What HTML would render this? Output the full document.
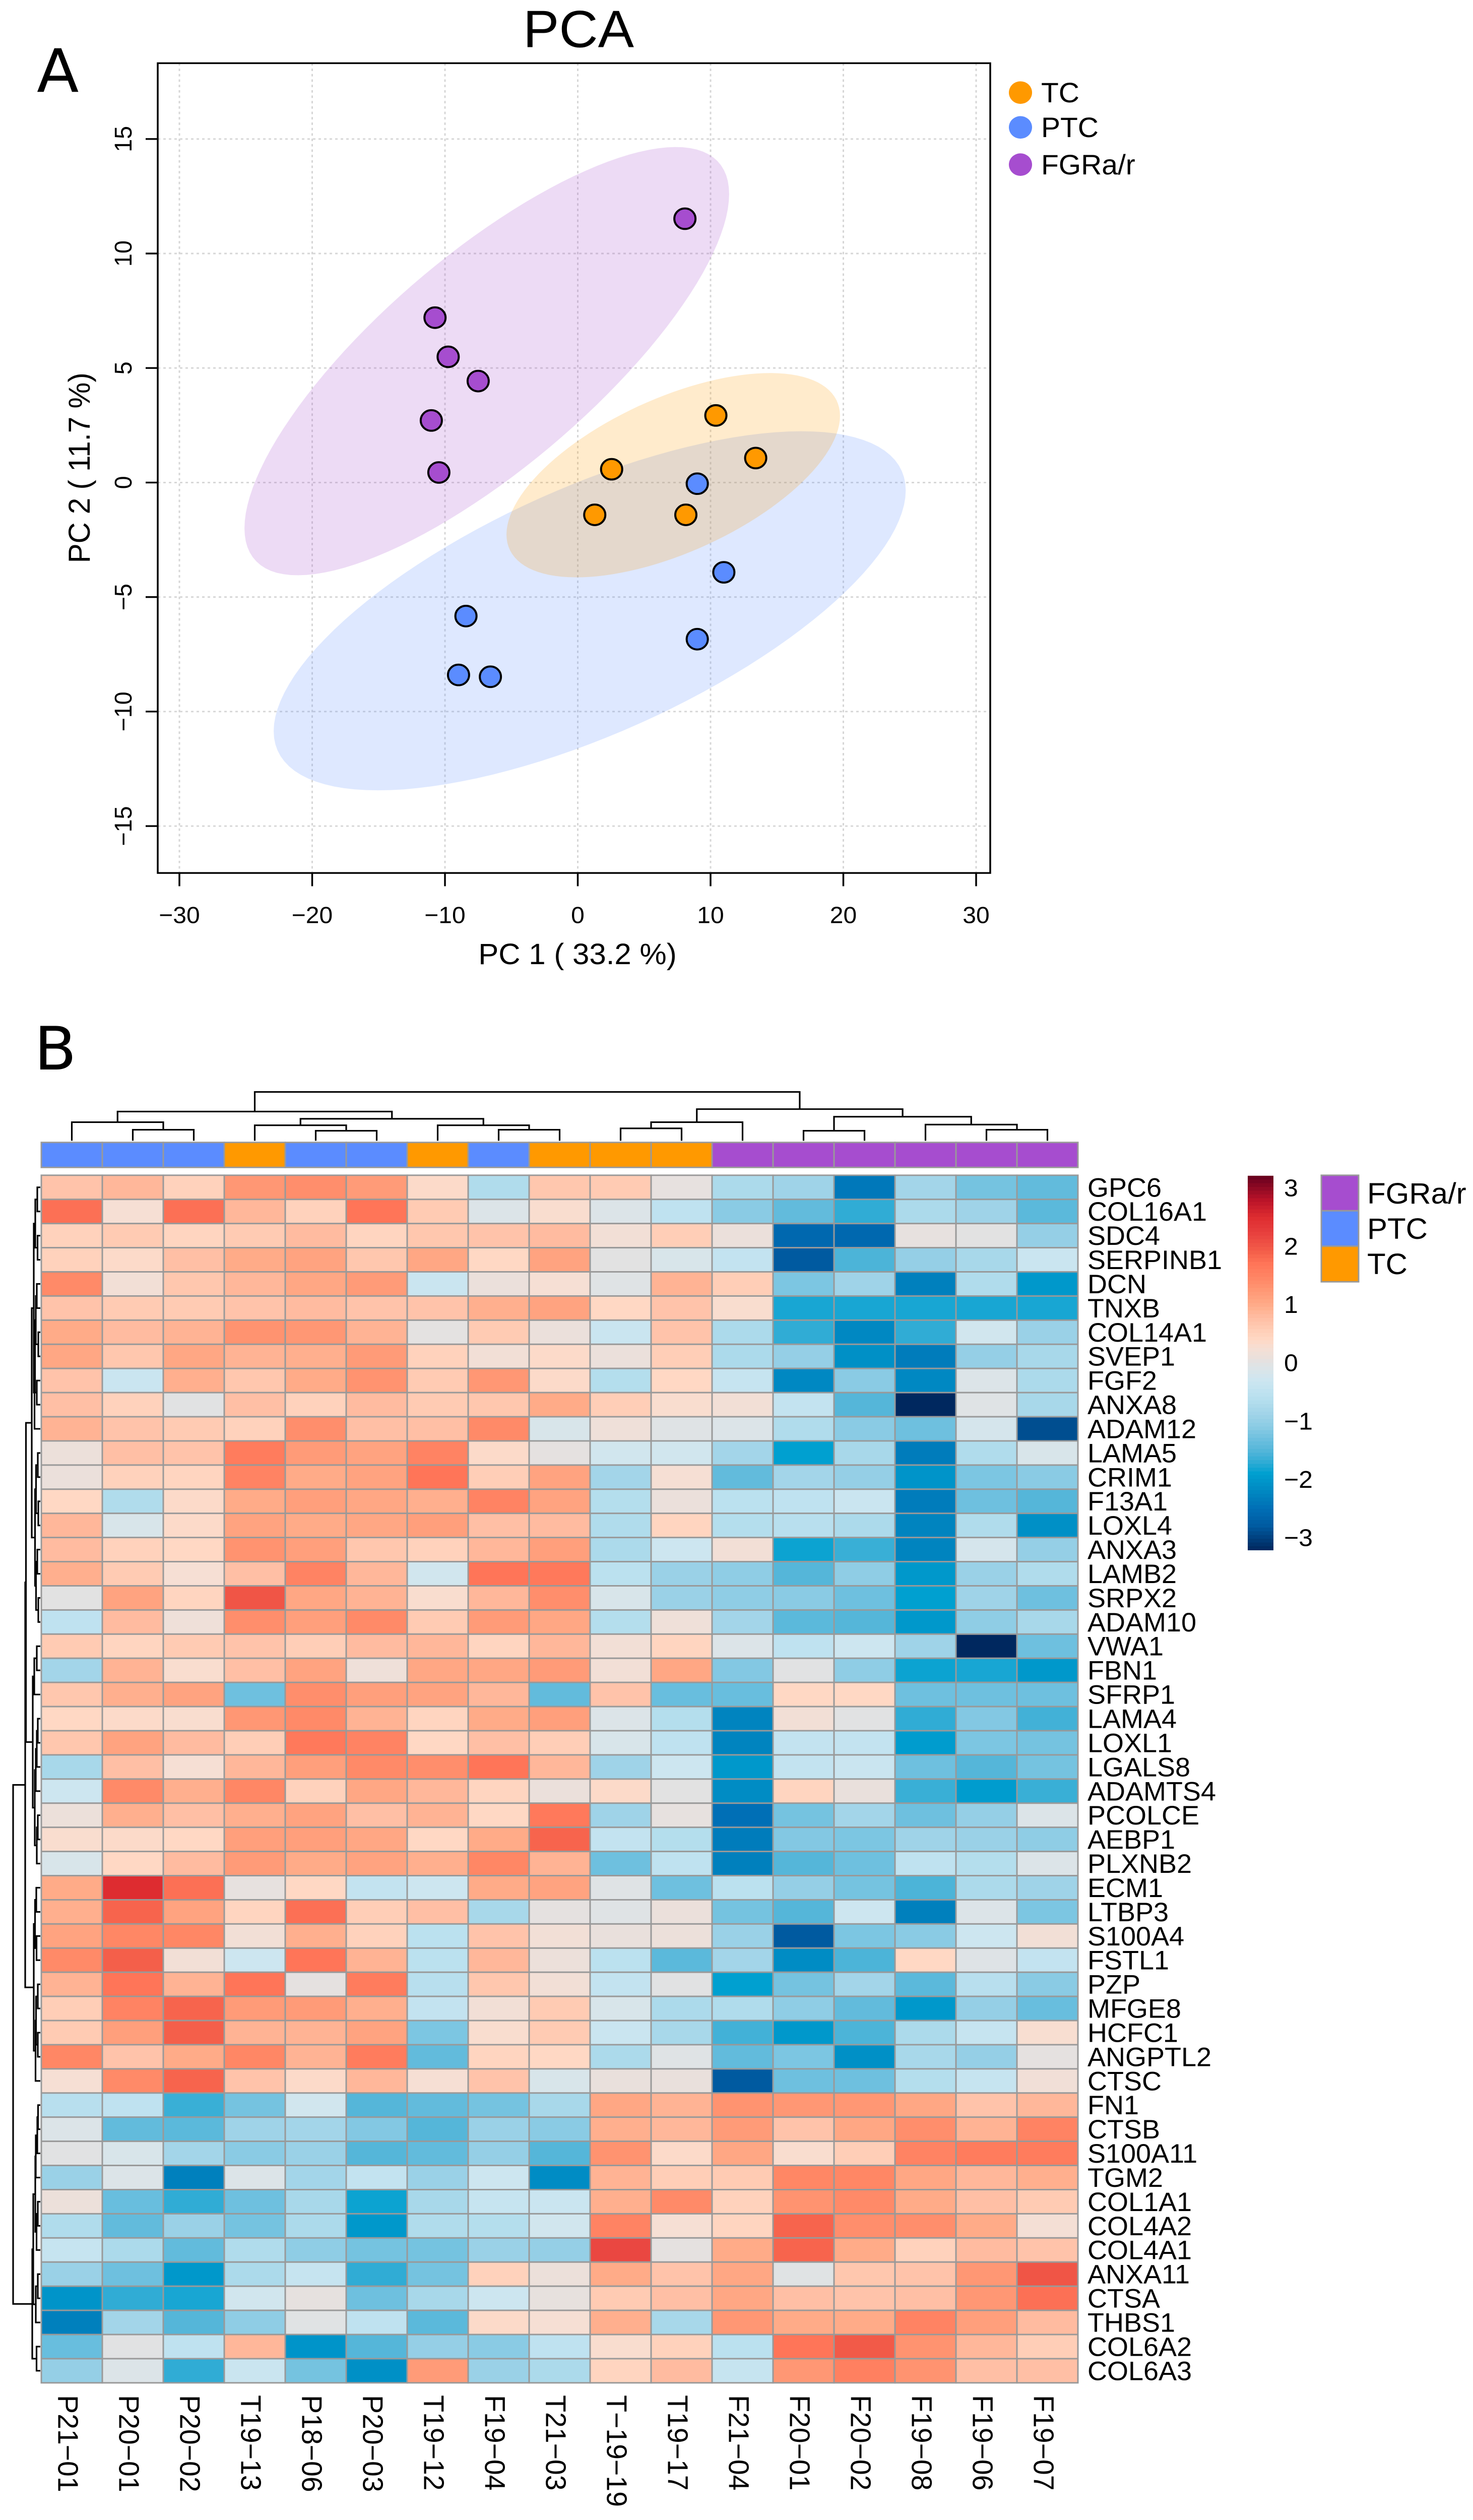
<!DOCTYPE html>
<html lang="en">
<head>
<meta charset="utf-8">
<title>PCA and heatmap of FGRa/r, PTC and TC samples</title>
<style>
html,body{margin:0;padding:0;background:#fff;width:100%;height:100vh;overflow:hidden;}
svg{display:block;overflow:hidden;width:100vw;height:100vh;font-family:"Liberation Sans",Arial,sans-serif;}
</style>
</head>
<body>
<svg id="figure" xmlns="http://www.w3.org/2000/svg" viewBox="0 0 2923 5144" preserveAspectRatio="none">
  <rect x="0" y="0" width="2923" height="5144" fill="#ffffff"/>
  <text x="73" y="187" font-family="'DejaVu Sans',sans-serif" font-size="122" fill="#000">A</text>
  <text x="68" y="2183" font-family="'DejaVu Sans',sans-serif" font-size="122" fill="#000">B</text>
  <text x="1148" y="96" font-size="107" text-anchor="middle" fill="#000">PCA</text>
  <text x="1146" y="1968" font-size="60" text-anchor="middle" fill="#000">PC 1 ( 33.2 %)</text>
  <text transform="translate(178 955) rotate(-90)" font-size="60" text-anchor="middle" fill="#000">PC 2 ( 11.7 %)</text>
  <g id="pca-plot"></g>
  <g id="pca-legend"></g>
  <g id="col-dendrogram"></g>
  <g id="annotation-bar"></g>
  <g id="heatmap"></g>
  <g id="row-dendrogram"></g>
  <g id="gene-labels"></g>
  <g id="sample-labels"></g>
  <g id="color-scale"></g>
  <g id="group-legend"></g>
</svg>
<script>
/* ---------- PCA data ---------- */
const pcaGroups = ['TC', 'PTC', 'FGRa/r'];
const pcaXTicks = [-30, -20, -10, 0, 10, 20, 30];
const pcaYTicks = [-15, -10, -5, 0, 5, 10, 15];
const tcPC1 = [10.4, 13.4, 2.55, 1.28, 8.14];
const tcPC2 = [2.93, 1.07, 0.58, -1.41, -1.41];
const ptcPC1 = [9.0, 11.0, 9.0, -8.42, -8.98, -6.58];
const ptcPC2 = [-0.05, -3.92, -6.84, -5.83, -8.4, -8.48];
const fgrPC1 = [8.07, -10.75, -9.76, -7.5, -11.03, -10.46];
const fgrPC2 = [11.52, 7.2, 5.49, 4.43, 2.71, 0.44];
/* confidence ellipses: centre, half extents and correlation */
const tcEllipse = [7.19, 0.32, 12.56, 4.46, 0.58];
const ptcEllipse = [0.9, -5.6, 23.8, 7.84, 0.67];
const fgrEllipse = [-6.85, 5.3, 18.25, 9.35, 0.78];

/* ---------- Heatmap data ---------- */
const geneNames = ['GPC6','COL16A1','SDC4','SERPINB1','DCN','TNXB','COL14A1','SVEP1','FGF2','ANXA8','ADAM12','LAMA5','CRIM1','F13A1','LOXL4','ANXA3','LAMB2','SRPX2','ADAM10','VWA1','FBN1','SFRP1','LAMA4','LOXL1','LGALS8','ADAMTS4','PCOLCE','AEBP1','PLXNB2','ECM1','LTBP3','S100A4','FSTL1','PZP','MFGE8','HCFC1','ANGPTL2','CTSC','FN1','CTSB','S100A11','TGM2','COL1A1','COL4A2','COL4A1','ANXA11','CTSA','THBS1','COL6A2','COL6A3'];
const sampleNames = ['P21\u221201','P20\u221201','P20\u221202','T19\u221213','P18\u221206','P20\u221203','T19\u221212','F19\u221204','T21\u221203','T\u221219\u221219','T19\u221217','F21\u221204','F20\u221201','F20\u221202','F19\u221208','F19\u221206','F19\u221207'];
const sampleGroups = ['PTC','PTC','PTC','TC','PTC','PTC','TC','PTC','TC','TC','TC','FGRa/r','FGRa/r','FGRa/r','FGRa/r','FGRa/r','FGRa/r'];
const zScores = [
[.7,.85,.5,1.25,1.35,1.2,.35,-.7,.65,.6,.05,-.75,-.9,-2.4,-.85,-1.25,-1.4],
[1.75,.25,1.75,.85,.5,1.7,.6,-.1,.3,-.1,-.5,-1.1,-1.4,-1.7,-.75,-.9,-1.45],
[.5,.6,.45,.6,.8,.45,.65,.7,.8,.2,.55,.1,-2.6,-2.6,.05,0,-1.0],
[.5,.35,.75,1.0,1.1,.65,1.05,.4,1.1,0,-.15,-.45,-2.8,-1.55,-1.0,-.8,-.35],
[1.4,.2,.65,.85,1.05,1.2,-.35,.1,.25,-.05,.9,.55,-1.2,-.9,-2.3,-.7,-2.0],
[.7,.6,.6,.7,.8,.7,.7,.95,1.1,.4,.7,.3,-1.8,-1.8,-1.8,-1.8,-1.8],
[1.0,.8,.9,1.3,1.25,.9,.02,.6,.1,-.35,.7,-.75,-1.7,-2.2,-1.7,-.25,-.95],
[1.05,.65,1.05,.9,.95,1.2,.5,.2,.35,.1,.55,-.75,-1.0,-2.1,-2.35,-1.0,-.8],
[.7,-.35,.95,.65,1.0,1.3,.6,1.25,.35,-.65,.4,-.4,-2.2,-1.1,-2.2,-.1,-.75],
[.75,.5,-.02,.75,.5,.8,.6,.65,1.0,.55,.3,.2,-.45,-1.5,-3.2,-.05,-.8],
[.9,.7,.6,.5,1.35,.75,.75,1.4,-.15,.15,-.05,-.1,-.7,-1.1,-1.3,-.2,-2.9],
[.12,.75,.7,1.6,1.2,1.1,1.5,.35,.03,-.25,-.25,-.85,-1.9,-.8,-2.35,-.7,-.15],
[.1,.5,.45,1.5,1.0,1.1,1.7,.55,1.1,-.85,.25,-1.4,-.85,-1.0,-2.05,-1.2,-1.1],
[.4,-.7,.35,1.0,1.15,1.05,.95,1.5,1.1,-.65,.1,-.55,-.5,-.35,-2.35,-1.3,-1.5],
[.85,-.15,.35,1.1,1.0,1.05,1.15,.75,.8,-.7,.45,-.65,-.6,-.75,-2.25,-.7,-2.1],
[.8,.5,.4,1.3,1.15,.65,.5,.85,1.15,-.75,-.3,.2,-1.85,-1.65,-2.25,-.2,-1.0],
[.95,.6,.25,.75,1.5,.85,-.25,1.7,1.65,-.55,-.95,-1.05,-1.5,-1.05,-2.0,-.95,-.7],
[0,1.1,.45,2.0,1.05,.9,.3,.85,1.35,-.15,-.95,-1.05,-1.1,-1.3,-1.9,-.9,-1.3],
[-.5,.8,.15,1.35,1.15,1.4,.6,1.2,1.05,-.65,.15,-.85,-1.45,-1.5,-2.0,-1.05,-.8],
[.6,.45,.6,.7,.55,.8,.85,.45,.85,.2,.45,-.1,-.5,-.3,-.9,-3.2,-1.3],
[-.85,.9,.3,.75,1.1,.15,1.05,1.05,1.2,.2,1.05,-1.15,-.02,-1.05,-1.85,-1.8,-2.0],
[.65,.95,1.1,-1.3,1.35,1.15,1.1,.85,-1.4,.7,-1.35,-1.35,.4,.4,-1.3,-1.3,-1.3],
[.4,.35,.3,1.25,1.4,.9,.45,1.0,1.15,-.1,-.65,-2.25,.2,-.02,-1.7,-1.15,-1.6],
[.65,1.1,.8,.55,1.65,1.5,.4,.75,.55,-.15,-.5,-2.25,-.45,-.45,-1.95,-1.2,-1.25],
[-.8,.75,.25,.85,1.15,1.4,1.35,1.7,.85,-.9,-.3,-2.0,-.45,-.35,-1.3,-1.5,-1.25],
[-.3,1.4,.95,1.45,.5,1.05,.85,.45,.1,.35,0,-2.15,.45,.08,-1.65,-1.95,-1.65],
[.12,.95,.75,.95,1.1,.75,.9,.4,1.65,-.9,.05,-2.5,-1.25,-.85,-1.3,-1.0,-.1],
[.3,.35,.4,1.15,1.15,1.05,.4,1.0,1.85,-.45,-.65,-2.35,-1.15,-1.2,-.9,-.95,-1.05],
[-.15,.4,.8,1.2,1.0,1.1,.95,1.45,.9,-1.3,-.5,-2.3,-1.5,-1.3,-.5,-.65,-.1],
[1.0,2.5,1.75,.05,.4,-.45,-.3,1.0,1.1,-.05,-1.3,-.55,-1.0,-1.25,-1.55,-.75,-.9],
[.95,1.85,1.1,.45,1.75,.55,.75,-.8,.03,-.05,.1,-1.25,-1.5,-.3,-2.3,-.1,-1.2],
[1.1,1.45,1.45,.2,.95,.5,-.55,.7,.2,.08,.12,-.95,-2.8,-1.2,-1.1,-.3,.2],
[1.4,1.9,.2,-.3,1.7,.9,-.55,.85,.12,-.55,-1.45,-.85,-2.15,-1.55,.4,-.07,-.45],
[.9,1.7,.9,1.7,.03,1.6,-.6,.65,.2,-.45,-.02,-1.9,-1.25,-.85,-1.45,-.6,-1.1],
[.55,1.5,1.85,1.2,1.2,.95,-.45,.2,.6,-.15,-.75,-.7,-1.05,-1.4,-2.0,-1.0,-1.35],
[.6,1.15,1.9,.9,.9,1.1,-1.2,.3,.6,-.35,-.8,-1.6,-2.0,-1.55,-.75,-.4,.28],
[1.45,.7,1.0,1.45,.9,1.6,-1.4,.45,.4,-.75,-.05,-1.4,-1.2,-2.1,-.8,-1.0,.03],
[.25,1.4,1.85,.7,.35,.85,.25,.7,-.15,.08,.08,-2.8,-1.3,-1.3,-.65,-.4,.18],
[-.6,-.5,-1.65,-1.25,-.25,-1.5,-1.4,-1.25,-.8,1.05,.9,1.3,1.25,1.25,1.05,.7,.85],
[-.1,-1.4,-1.45,-.9,-.85,-1.15,-1.5,-.95,-1.1,.95,.85,1.2,.7,1.05,1.35,.9,1.5],
[-.02,-.15,-.85,-1.1,-.95,-1.5,-1.4,-1.0,-1.5,1.3,.35,1.05,.3,.55,1.5,1.6,1.6],
[-.95,-.1,-2.3,-.1,-.85,-.45,-.95,-.3,-2.15,.9,.55,.6,1.45,1.45,1.05,.85,.95],
[.12,-1.35,-1.7,-1.3,-.8,-1.85,-.8,-.4,-.35,.95,1.4,.5,1.3,1.4,1.0,.75,.6],
[-.7,-1.4,-.95,-1.25,-.75,-2.0,-.7,-.65,-.25,1.5,.25,.45,1.85,1.35,1.35,1.0,.22],
[-.4,-.75,-1.4,-.7,-1.05,-1.25,-1.25,-.95,-1.0,2.15,.03,1.0,1.85,1.0,.5,.8,.7],
[-.95,-1.3,-2.0,-.75,-.4,-1.7,-1.25,.5,.12,1.0,.7,1.05,-.03,.65,.7,1.25,2.0],
[-2.05,-1.7,-1.8,-.25,.04,-1.3,-.8,-.3,.06,.6,.75,1.05,.75,.7,.75,1.25,1.75],
[-2.3,-.85,-1.5,-1.05,-.03,-.5,-1.45,.35,.25,.95,-.8,1.25,1.0,1.0,1.5,1.15,.8],
[-1.35,-.02,-.5,.85,-2.05,-1.5,-1.0,-1.1,-.5,.3,.5,-.55,1.7,1.95,1.3,.85,.55],
[-1.0,-.1,-1.7,-.35,-1.25,-2.1,1.2,-.95,-.75,.45,.8,-.4,1.25,1.55,1.3,.75,.75]
];
const colorTicks = [3, 2, 1, 0, -1, -2, -3];
const legendGroups = ['FGRa/r', 'PTC', 'TC'];
/* hclust-style merges: negative = leaf -(i+1), positive = merge id (1-based); third item = height */
const colMerges = [[-2,-3,22.5],[-1,1,37.9],[-5,-6,20.4],[-4,3,31.6],[-8,-9,22.5],[-7,5,31.6],[4,6,44.9],[2,7,59.6],[-10,-11,25.3],[9,-12,37.9],[-13,-14,20.4],[-16,-17,22.5],[-15,12,33],[11,13,49.1],[10,14,64.6],[8,15,99.6]];
const rowMerges = [[-1,-2,6],[-3,-4,5.5],[1,2,10],[-5,-6,7],[-7,-8,4],[4,5,9],[-9,-10,7],[6,7,10.5],[8,-11,11.5],[3,9,13],[-12,-13,5],[-14,-15,4],[11,12,8.5],[-16,-17,6],[-18,-19,4],[14,15,8.5],[13,16,10.5],[10,17,17],[-20,-21,7],[19,-22,12],[-23,-24,5],[21,-25,7],[22,-26,9],[-27,-28,5],[24,-29,7],[23,25,11],[20,26,15],[18,27,28.5],[-30,-31,8],[-32,-33,7.5],[29,30,10.5],[-34,-35,5],[-36,-37,5],[32,33,8.5],[34,-38,9.5],[31,35,13],[28,36,30],[-39,-40,4.5],[38,-41,6],[39,-42,9],[-43,-44,5],[41,-45,7.5],[40,42,10],[-46,-47,5],[44,-48,9],[43,45,14],[-49,-50,7.5],[46,47,16],[37,48,54]];

/* ---------- helpers and scales ---------- */
const NS = 'http://www.w3.org/2000/svg';
function mk(tag, props, parent) {
  const n = document.createElementNS(NS, tag);
  for (const k in props) n.setAttribute(k, props[k]);
  parent.appendChild(n);
  return n;
}
const groupColor = {'TC':'#FF9900','PTC':'#5B8CFF','FGRa/r':'#A64DCF'};
const pcaX = v => 1146.5 + v * 26.35;
const pcaY = v => 985 - v * 46.75;
const colStops = [[-3.2,'#00285f'],[-2.8,'#005aa0'],[-2.5,'#006fb6'],[-2.3,'#0080bd'],[-2.1,'#0090c6'],[-1.9,'#00a0d0'],[-1.7,'#30acd5'],[-1.5,'#55b6d9'],[-1.3,'#6ec0df'],[-1.1,'#8acbe4'],[-.9,'#9fd3e8'],[-.7,'#b0dcec'],[-.5,'#bfe2f0'],[-.3,'#cde6f0'],[-.1,'#dce4e8'],[0,'#e2e2e2'],[.1,'#ebe0db'],[.25,'#f6dfd4'],[.4,'#ffd8c4'],[.6,'#ffcbb3'],[.8,'#ffbba0'],[1,'#ffab88'],[1.2,'#ff9b78'],[1.4,'#ff8a68'],[1.7,'#ff7558'],[1.9,'#f45f4a'],[2.2,'#e8423f'],[2.5,'#de2c30'],[2.8,'#b81228'],[3.2,'#67001f']];
function hexToRgb(h){return [parseInt(h.slice(1,3),16),parseInt(h.slice(3,5),16),parseInt(h.slice(5,7),16)];}
function colorOf(v){
  if (v <= colStops[0][0]) return colStops[0][1];
  for (let i = 1; i < colStops.length; i++) {
    if (v <= colStops[i][0]) {
      const a = colStops[i-1], b = colStops[i], t = (v - a[0]) / (b[0] - a[0]);
      const ca = hexToRgb(a[1]), cb = hexToRgb(b[1]);
      return 'rgb(' + ca.map((c, j) => Math.round(c + (cb[j] - c) * t)).join(',') + ')';
    }
  }
  return colStops[colStops.length-1][1];
}

/* ---------- PCA panel ---------- */
const plot = document.getElementById('pca-plot');
const plotL = 313, plotR = 1965, plotT = 129, plotB = 1782;
pcaXTicks.forEach(v => {
  const g = mk('line', {x1:pcaX(v), x2:pcaX(v), y1:plotT, y2:plotB, stroke:'#d6d6d6', 'stroke-width':3, 'stroke-dasharray':'5 6'}, plot);
  
  
});
pcaYTicks.forEach(v => {
  const g = mk('line', {x1:plotL, x2:plotR, y1:pcaY(v), y2:pcaY(v), stroke:'#d6d6d6', 'stroke-width':3, 'stroke-dasharray':'5 6'}, plot);
  
  
});
function ellipsePath(e){
  const phi = Math.acos(e[4]);
  let d = '';
  for (let i = 0; i <= 120; i++) {
    const t = i / 120 * 2 * Math.PI;
    const x = e[0] + e[2] * Math.cos(t);
    const y = e[1] + e[3] * Math.cos(t - phi);
    d += (i ? 'L' : 'M') + pcaX(x).toFixed(1) + ' ' + pcaY(y).toFixed(1);
  }
  return d + 'Z';
}
const fgrShape = mk('path', {d:ellipsePath(fgrEllipse), fill:groupColor['FGRa/r'], 'fill-opacity':.2}, plot);


const ptcShape = mk('path', {d:ellipsePath(ptcEllipse), fill:groupColor['PTC'], 'fill-opacity':.2}, plot);


const tcShape = mk('path', {d:ellipsePath(tcEllipse), fill:groupColor['TC'], 'fill-opacity':.2}, plot);


const frame = mk('rect', {x:plotL, y:plotT, width:plotR-plotL, height:plotB-plotT, fill:'none', stroke:'#000', 'stroke-width':3.5}, plot);


pcaXTicks.forEach(v => {
  const t = mk('line', {x1:pcaX(v), x2:pcaX(v), y1:plotB, y2:plotB+27, stroke:'#000', 'stroke-width':3.5}, plot);
  
  
  const l = mk('text', {x:pcaX(v), y:1884, 'font-size':48, 'text-anchor':'middle', fill:'#000'}, plot);
  l.textContent = String(v).replace('-', '\u2212');
  
  
});
pcaYTicks.forEach(v => {
  const t = mk('line', {x1:plotL-24, x2:plotL, y1:pcaY(v), y2:pcaY(v), stroke:'#000', 'stroke-width':3.5}, plot);
  
  
  const l = mk('text', {transform:'translate(261 ' + pcaY(v) + ') rotate(-90)', 'font-size':48, 'text-anchor':'middle', fill:'#000'}, plot);
  l.textContent = String(v).replace('-', '\u2212');
  
  
});
function drawPoints(xs, ys, group, name){
  xs.forEach((x, i) => {
    const c = mk('circle', {cx:pcaX(x), cy:pcaY(ys[i]), r:21, fill:groupColor[group], stroke:'#000', 'stroke-width':4}, plot);
    
    
  });
}
drawPoints(fgrPC1, fgrPC2, 'FGRa/r', 'fgr-point');
drawPoints(tcPC1, tcPC2, 'TC', 'tc-point');
drawPoints(ptcPC1, ptcPC2, 'PTC', 'ptc-point');

const pcaLegend = document.getElementById('pca-legend');
const pcaLegendY = [189, 260, 336];
pcaGroups.forEach((g, i) => {
  const c = mk('circle', {cx:2025, cy:pcaLegendY[i], r:23, fill:groupColor[g]}, pcaLegend);
  
  
  const t = mk('text', {x:2066, y:pcaLegendY[i]+20, 'font-size':57, fill:'#000'}, pcaLegend);
  t.textContent = g;
  
  
});

/* ---------- Heatmap ---------- */
const hmL = 82, hmT = 2399, cellW = 121, cellH = 49.3;
const colX = i => hmL + cellW * i;
const rowY = i => hmT + cellH * i;
const heat = document.getElementById('heatmap');
zScores.forEach((row, r) => {
  row.forEach((v, c) => {
    const cell = mk('rect', {x:colX(c), y:rowY(r), width:cellW, height:cellH, fill:colorOf(v), stroke:'#999999', 'stroke-width':3}, heat);
    
    
  });
});
const annot = document.getElementById('annotation-bar');
sampleGroups.forEach((g, c) => {
  const a = mk('rect', {x:colX(c), y:2332, width:cellW, height:51, fill:groupColor[g], stroke:'#999999', 'stroke-width':3}, annot);
  
  
});
const geneGroup = document.getElementById('gene-labels');
geneNames.forEach((n, r) => {
  const t = mk('text', {x:2158, y:rowY(r)+cellH/2+19, 'font-size':54, fill:'#000'}, geneGroup);
  t.textContent = n;
  
  
});
const sampleGroup = document.getElementById('sample-labels');
sampleNames.forEach((n, c) => {
  const t = mk('text', {transform:'translate(' + (colX(c)+cellW/2-27) + ' 4889) rotate(90)', 'font-size':57, fill:'#000'}, sampleGroup);
  t.textContent = n;
  
  
});

/* ---------- Dendrograms ---------- */
function drawDendro(merges, parent, leafPos, toPoint, name){
  const pos = [], hts = [];
  const getPos = id => id < 0 ? leafPos(-id-1) : pos[id-1];
  const getH = id => id < 0 ? 0 : hts[id-1];
  merges.forEach(m => {
    const pa = getPos(m[0]), pb = getPos(m[1]), h = m[2];
    const p1 = toPoint(pa, getH(m[0])), p2 = toPoint(pa, h), p3 = toPoint(pb, h), p4 = toPoint(pb, getH(m[1]));
    const d = 'M' + p1.join(' ') + 'L' + p2.join(' ') + 'L' + p3.join(' ') + 'L' + p4.join(' ');
    const link = mk('path', {d:d, fill:'none', stroke:'#000', 'stroke-width':3.2}, parent);
    
    
    pos.push((pa + pb) / 2);
    hts.push(h);
  });
}
drawDendro(colMerges, document.getElementById('col-dendrogram'), i => colX(i)+cellW/2, (p, h) => [p, 2328.6-h], 'column-dendrogram-link');
drawDendro(rowMerges, document.getElementById('row-dendrogram'), i => rowY(i)+cellH/2, (p, h) => [80-h, p], 'row-dendrogram-link');

/* ---------- Colour scale ---------- */
const scaleGroup = document.getElementById('color-scale');
const scaleY = v => 2782 - v * 119;
const scaleTop = 3.21, scaleBottom = -3.21, bands = 100;
for (let i = 0; i < bands; i++) {
  const v1 = scaleTop - (scaleTop - scaleBottom) * i / bands;
  const v2 = scaleTop - (scaleTop - scaleBottom) * (i + 1) / bands;
  const b = mk('rect', {x:2476, y:scaleY(v1), width:51, height:scaleY(v2)-scaleY(v1)+.6, fill:colorOf((v1+v2)/2)}, scaleGroup);
  
  
}
colorTicks.forEach(v => {
  const t = mk('text', {x:2548, y:scaleY(v)+17, 'font-size':50, fill:'#000'}, scaleGroup);
  t.textContent = String(v).replace('-', '\u2212');
  
  
});

/* ---------- Group legend ---------- */
const gl = document.getElementById('group-legend');
legendGroups.forEach((g, i) => {
  const s = mk('rect', {x:2622, y:2399+i*72.5, width:74, height:72.5, fill:groupColor[g], stroke:'#999999', 'stroke-width':3}, gl);
  
  
  const t = mk('text', {x:2713, y:2457+i*72, 'font-size':60, fill:'#000'}, gl);
  t.textContent = g;
  
  
});
</script>
</body>
</html>
